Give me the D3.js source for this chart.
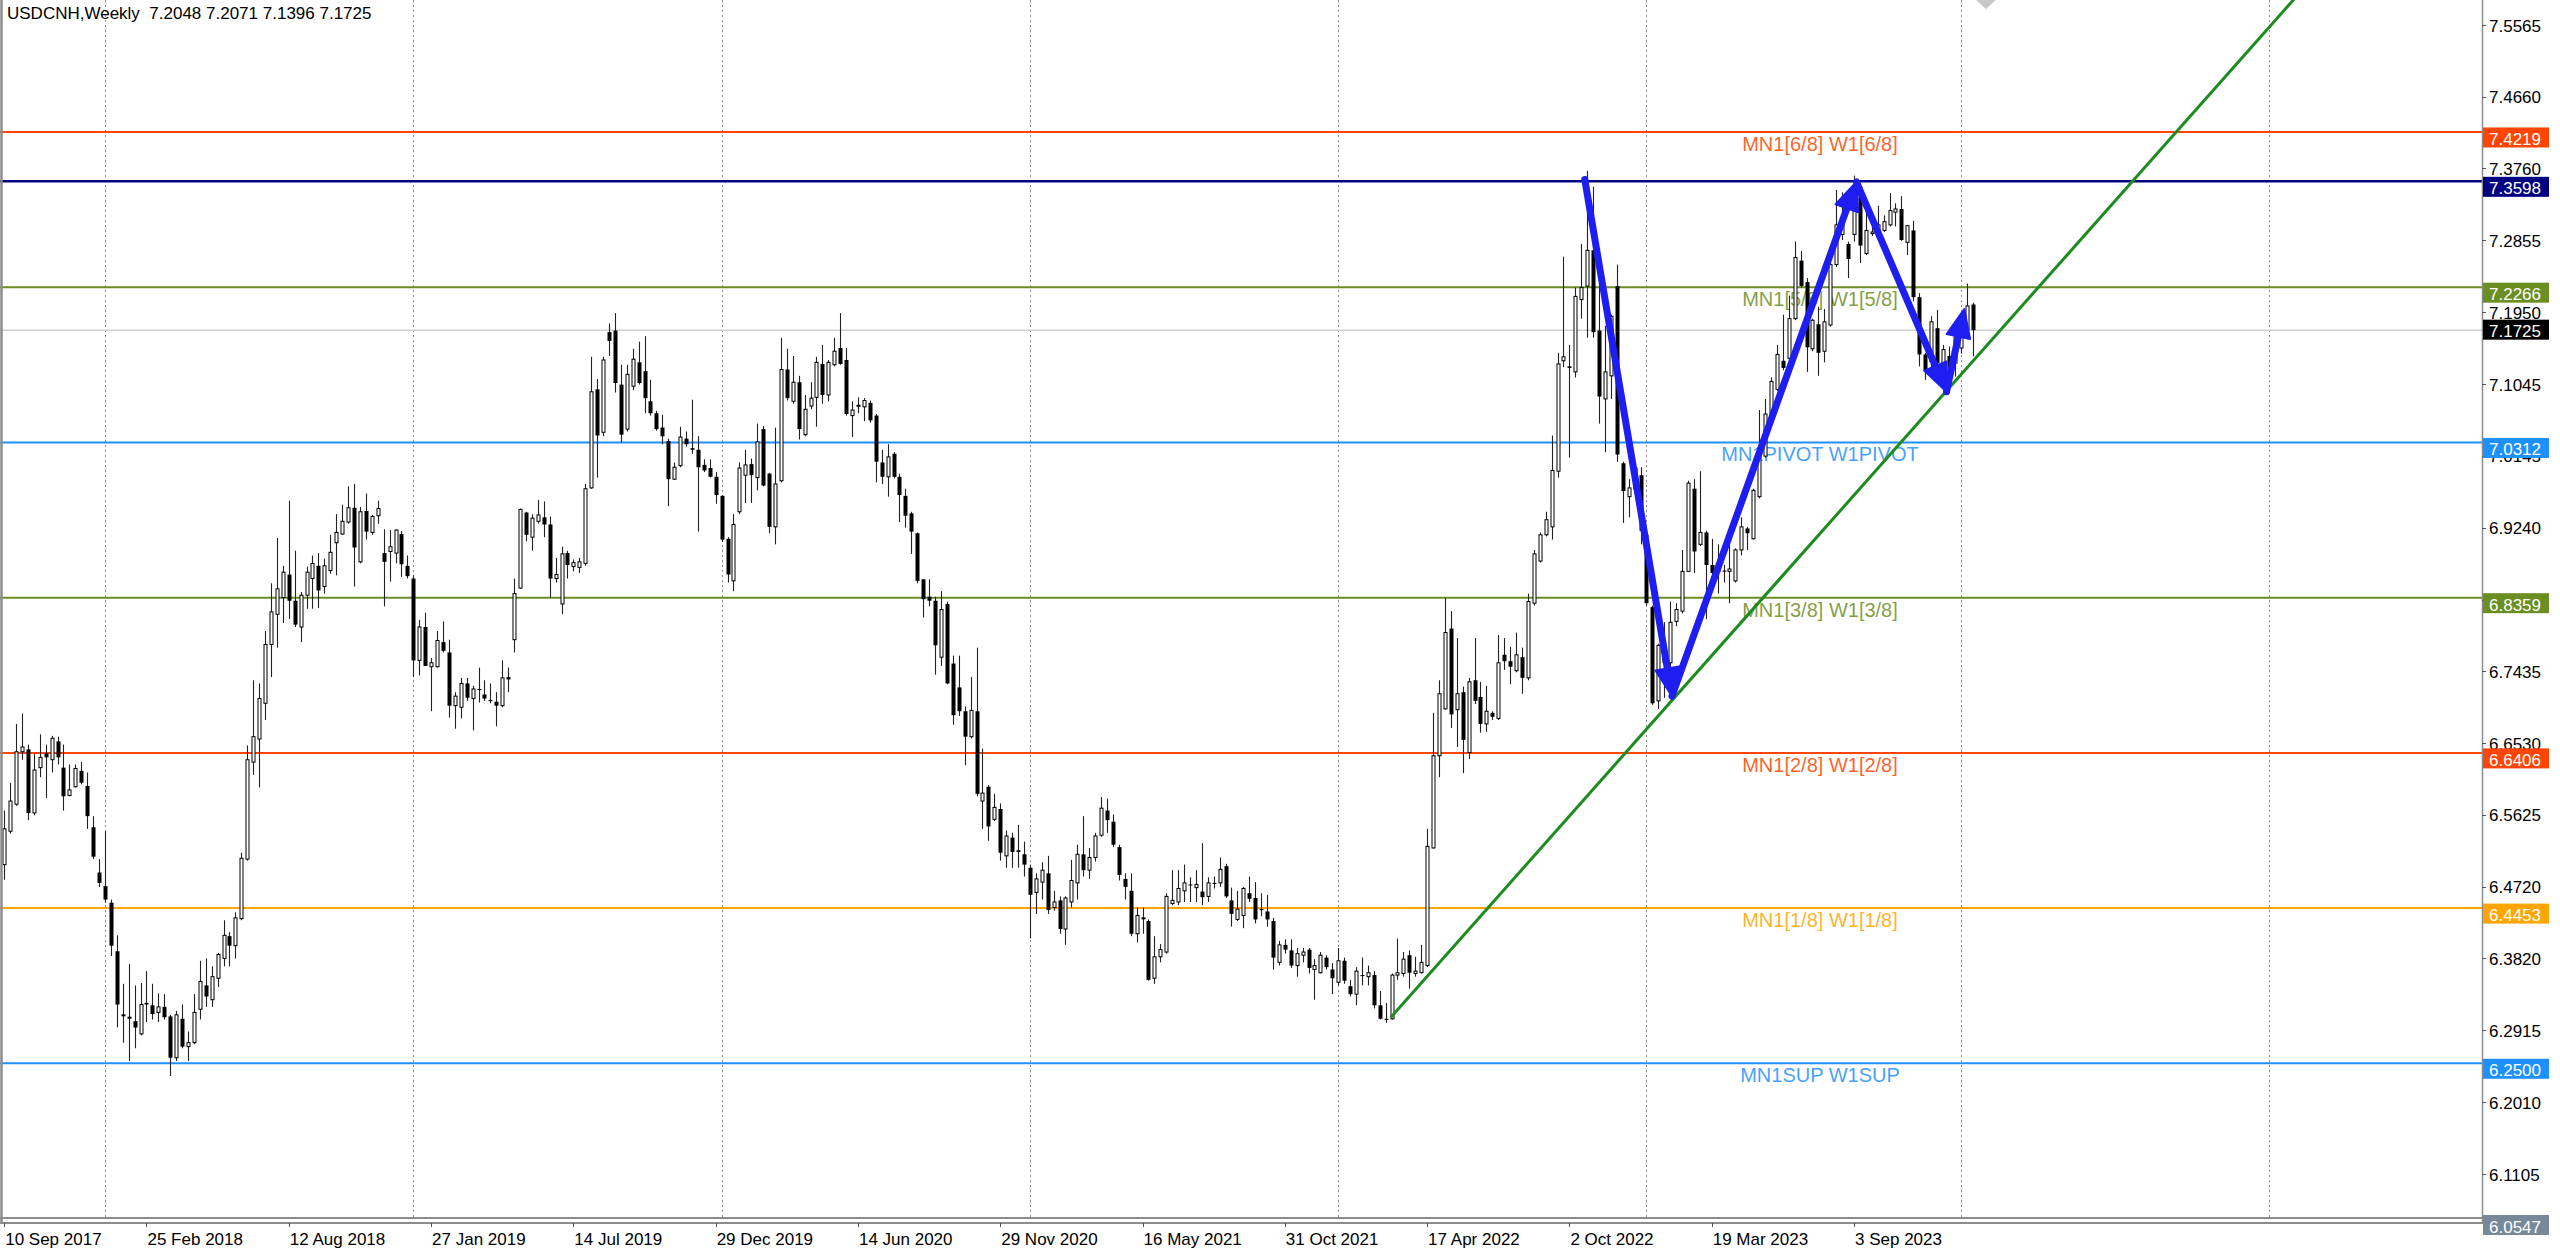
<!DOCTYPE html>
<html><head><meta charset="utf-8">
<script src="https://cdn.jsdelivr.net/npm/d3@7"></script>
<style>html,body{margin:0;padding:0;background:#fff;}svg{display:block;}</style>
</head><body>
<svg id="chart" width="2560" height="1249"></svg>
<script>
// ---------------- DATA ----------------
const chartTitle = "USDCNH,Weekly  7.2048 7.2071 7.1396 7.1725";
const firstBarDate = "2017-09-10";

const opens = [6.500,6.542,6.576,6.642,6.645,6.565,6.622,6.640,6.632,6.655,6.622,6.587,6.598,6.618,6.599,6.547,6.490,6.473,6.452,6.391,
6.310,6.307,6.303,6.287,6.326,6.323,6.314,6.321,6.309,6.257,6.306,6.271,6.276,6.318,6.348,6.330,6.357,6.382,6.410,6.398,
6.432,6.507,6.629,6.658,6.703,6.777,6.815,6.836,6.865,6.832,6.799,6.839,6.860,6.876,6.850,6.870,6.905,6.916,6.931,6.949,
6.881,6.945,6.918,6.939,6.892,6.894,6.892,6.916,6.876,6.860,6.757,6.799,6.749,6.749,6.780,6.767,6.700,6.698,6.728,6.709,
6.721,6.714,6.707,6.705,6.700,6.736,6.783,6.848,6.943,6.912,6.932,6.937,6.928,6.860,6.828,6.892,6.875,6.874,6.879,6.974,
7.098,7.044,7.170,7.172,7.104,7.048,7.102,7.132,7.121,7.083,7.068,7.050,7.033,6.985,7.002,7.036,7.024,7.022,7.003,6.999,
6.988,6.964,6.910,6.857,6.944,6.990,7.004,6.987,7.048,6.992,6.925,6.983,7.123,7.083,7.107,7.041,7.077,7.088,7.130,7.091,
7.129,7.150,7.135,7.065,7.078,7.076,7.081,7.065,7.006,6.988,7.017,6.988,6.964,6.942,6.917,6.859,6.837,6.832,6.761,6.828,
6.753,6.723,6.693,6.661,6.693,6.580,6.598,6.557,6.570,6.511,6.534,6.518,6.513,6.496,6.465,6.478,6.489,6.446,6.455,6.419,
6.453,6.477,6.513,6.493,6.509,6.537,6.568,6.554,6.522,6.482,6.467,6.413,6.433,6.429,6.357,6.384,6.390,6.451,6.453,6.467,
6.475,6.471,6.466,6.460,6.477,6.477,6.498,6.455,6.431,6.436,6.464,6.458,6.444,6.441,6.429,6.377,6.399,6.392,6.373,6.386,
6.393,6.368,6.364,6.383,6.368,6.352,6.379,6.347,6.337,6.361,6.359,6.361,6.323,6.306,6.306,6.361,6.363,6.386,6.363,6.364,
6.373,6.521,6.637,6.696,6.797,6.695,6.717,6.641,6.732,6.711,6.677,6.691,6.684,6.764,6.756,6.744,6.761,6.735,6.829,6.882,
6.915,6.925,6.995,7.134,7.127,7.120,7.211,7.228,7.273,7.172,7.086,7.115,7.228,7.005,6.963,6.973,6.990,6.915,6.824,6.706,
6.764,6.754,6.806,6.819,6.869,6.973,6.903,6.918,6.877,6.870,6.870,6.869,6.857,6.896,6.923,6.910,6.963,7.014,7.066,7.098,
7.134,7.137,7.187,7.260,7.233,7.149,7.180,7.146,7.179,7.255,7.293,7.281,7.293,7.353,7.269,7.294,7.296,7.298,7.305,7.321,
7.325,7.283,7.298,7.214,7.142,7.133,7.175,7.122,7.140,7.131,7.150,7.173,7.2048];

const highs = [6.568,6.603,6.677,6.690,6.651,6.639,6.664,6.651,6.662,6.661,6.651,6.626,6.626,6.629,6.616,6.561,6.507,6.542,6.456,6.411,
6.350,6.375,6.348,6.351,6.366,6.350,6.338,6.337,6.311,6.316,6.324,6.290,6.337,6.379,6.382,6.372,6.389,6.430,6.415,6.440,
6.515,6.650,6.732,6.728,6.794,6.854,6.911,6.876,6.958,6.895,6.843,6.875,6.889,6.892,6.885,6.915,6.941,6.953,6.976,6.979,
6.950,6.967,6.940,6.958,6.922,6.921,6.922,6.920,6.889,6.864,6.808,6.817,6.760,6.794,6.806,6.783,6.717,6.735,6.735,6.725,
6.748,6.732,6.728,6.717,6.757,6.748,6.860,6.948,6.944,6.941,6.959,6.957,6.938,6.886,6.900,6.895,6.884,6.886,6.979,7.139,
7.111,7.139,7.181,7.194,7.129,7.129,7.149,7.158,7.165,7.110,7.071,7.066,7.036,7.006,7.051,7.045,7.085,7.039,7.010,7.010,
6.994,6.965,6.912,6.941,7.006,7.022,7.011,7.055,7.052,6.993,7.050,7.163,7.149,7.140,7.115,7.091,7.107,7.139,7.154,7.135,
7.163,7.194,7.150,7.083,7.088,7.087,7.084,7.067,7.022,7.029,7.019,6.992,6.973,6.944,6.918,6.859,6.859,6.837,6.844,6.831,
6.763,6.763,6.699,6.736,6.773,6.646,6.600,6.589,6.577,6.543,6.540,6.550,6.529,6.500,6.489,6.503,6.511,6.467,6.460,6.460,
6.506,6.525,6.561,6.521,6.540,6.585,6.583,6.563,6.525,6.489,6.489,6.446,6.446,6.431,6.410,6.400,6.464,6.493,6.493,6.500,
6.484,6.493,6.527,6.484,6.485,6.509,6.501,6.471,6.467,6.472,6.485,6.478,6.464,6.462,6.433,6.404,6.406,6.406,6.395,6.395,
6.395,6.381,6.390,6.386,6.376,6.395,6.383,6.355,6.371,6.383,6.373,6.366,6.341,6.326,6.363,6.407,6.390,6.392,6.384,6.399,
6.545,6.691,6.732,6.836,6.819,6.785,6.724,6.735,6.785,6.730,6.725,6.693,6.789,6.785,6.774,6.792,6.773,6.841,6.896,6.918,
6.944,7.040,7.144,7.265,7.154,7.226,7.281,7.373,7.353,7.245,7.178,7.192,7.255,7.007,6.985,7.000,7.000,6.920,6.826,6.778,
6.805,6.831,6.829,6.896,6.983,6.985,6.995,6.920,6.910,6.903,6.877,6.908,6.898,6.937,6.925,6.973,7.072,7.086,7.113,7.154,
7.192,7.216,7.284,7.272,7.238,7.187,7.202,7.199,7.259,7.349,7.346,7.284,7.367,7.358,7.329,7.303,7.329,7.317,7.345,7.332,
7.341,7.305,7.310,7.219,7.144,7.190,7.198,7.154,7.152,7.168,7.181,7.231,7.2071];

const lows = [6.481,6.539,6.574,6.632,6.556,6.562,6.610,6.584,6.616,6.626,6.568,6.586,6.597,6.601,6.545,6.507,6.472,6.452,6.385,6.295,
6.276,6.253,6.269,6.285,6.302,6.305,6.302,6.305,6.234,6.253,6.269,6.253,6.274,6.305,6.321,6.321,6.346,6.372,6.372,6.382,
6.430,6.505,6.613,6.597,6.682,6.736,6.773,6.804,6.809,6.799,6.780,6.822,6.822,6.823,6.841,6.866,6.864,6.915,6.929,6.850,
6.879,6.909,6.915,6.929,6.825,6.856,6.879,6.862,6.860,6.736,6.738,6.750,6.693,6.748,6.767,6.685,6.671,6.684,6.706,6.669,
6.704,6.706,6.703,6.674,6.698,6.717,6.767,6.847,6.907,6.895,6.929,6.912,6.836,6.855,6.815,6.860,6.869,6.867,6.876,6.973,
6.987,7.039,7.140,7.094,7.031,7.045,7.097,7.104,7.068,7.065,7.046,7.029,6.951,6.984,7.000,7.026,7.017,6.919,6.994,6.987,
6.954,6.906,6.855,6.844,6.941,6.955,6.955,6.971,6.976,6.917,6.903,6.981,7.084,7.080,7.035,7.039,7.073,7.051,7.080,7.083,
7.127,7.129,7.065,7.038,7.068,7.058,7.056,6.981,6.979,6.963,6.986,6.931,6.924,6.891,6.854,6.811,6.825,6.739,6.750,6.727,
6.676,6.687,6.625,6.659,6.586,6.545,6.530,6.555,6.505,6.496,6.496,6.496,6.485,6.407,6.438,6.456,6.438,6.442,6.413,6.399,
6.446,6.456,6.485,6.482,6.504,6.535,6.540,6.522,6.480,6.456,6.410,6.402,6.413,6.354,6.350,6.377,6.388,6.449,6.449,6.453,
6.453,6.453,6.449,6.453,6.470,6.472,6.458,6.422,6.429,6.420,6.453,6.426,6.435,6.422,6.368,6.373,6.388,6.370,6.359,6.377,
6.363,6.330,6.363,6.368,6.337,6.348,6.350,6.334,6.323,6.348,6.348,6.319,6.305,6.301,6.305,6.355,6.359,6.344,6.359,6.363,
6.371,6.520,6.610,6.695,6.672,6.648,6.615,6.633,6.702,6.666,6.667,6.682,6.682,6.745,6.727,6.742,6.715,6.732,6.826,6.880,
6.913,6.909,6.987,7.126,7.012,7.113,7.187,7.163,7.163,7.055,7.019,7.086,7.007,6.930,6.937,6.971,6.903,6.826,6.701,6.696,
6.710,6.739,6.800,6.816,6.869,6.867,6.901,6.809,6.865,6.841,6.855,6.829,6.855,6.889,6.896,6.909,6.961,7.012,7.065,7.096,
7.122,7.133,7.185,7.226,7.120,7.146,7.115,7.132,7.177,7.252,7.286,7.238,7.284,7.257,7.267,7.291,7.286,7.296,7.303,7.303,
7.285,7.267,7.209,7.127,7.110,7.112,7.127,7.115,7.093,7.114,7.143,7.169,7.1396];

const closes = [6.545,6.580,6.642,6.648,6.565,6.619,6.635,6.635,6.659,6.635,6.586,6.594,6.621,6.603,6.561,6.510,6.477,6.456,6.398,6.324,
6.311,6.308,6.295,6.324,6.324,6.312,6.321,6.308,6.257,6.311,6.271,6.276,6.314,6.353,6.334,6.359,6.387,6.411,6.398,6.433,
6.508,6.632,6.661,6.709,6.777,6.818,6.847,6.868,6.832,6.802,6.839,6.868,6.879,6.845,6.876,6.893,6.918,6.932,6.949,6.899,
6.944,6.919,6.938,6.948,6.881,6.900,6.921,6.878,6.863,6.757,6.799,6.750,6.754,6.782,6.769,6.700,6.712,6.728,6.710,6.721,
6.720,6.709,6.706,6.700,6.735,6.733,6.841,6.947,6.915,6.936,6.940,6.928,6.860,6.865,6.891,6.877,6.880,6.881,6.973,7.095,
7.040,7.135,7.159,7.106,7.041,7.117,7.136,7.106,7.087,7.068,7.048,7.039,6.985,7.000,7.038,7.029,7.022,7.000,6.996,6.988,
6.965,6.909,6.865,6.928,6.999,7.003,6.990,7.032,6.977,6.925,6.979,7.123,7.087,7.107,7.048,7.073,7.087,7.132,7.091,7.132,
7.146,7.130,7.067,7.072,7.078,7.084,7.059,7.007,6.988,7.013,6.988,6.965,6.939,6.919,6.857,6.834,6.832,6.776,6.821,6.728,
6.688,6.693,6.661,6.694,6.589,6.590,6.548,6.572,6.515,6.536,6.516,6.516,6.500,6.462,6.482,6.493,6.443,6.453,6.419,6.458,
6.480,6.513,6.493,6.509,6.536,6.571,6.556,6.525,6.487,6.472,6.413,6.436,6.433,6.355,6.384,6.393,6.460,6.455,6.470,6.477,
6.474,6.475,6.459,6.477,6.476,6.494,6.460,6.438,6.444,6.470,6.457,6.431,6.443,6.431,6.383,6.399,6.393,6.373,6.388,6.390,
6.370,6.373,6.386,6.371,6.357,6.379,6.354,6.337,6.366,6.360,6.364,6.323,6.306,6.305,6.361,6.364,6.381,6.364,6.366,6.377,
6.523,6.637,6.715,6.792,6.689,6.715,6.657,6.730,6.706,6.677,6.693,6.686,6.754,6.756,6.749,6.764,6.735,6.831,6.891,6.915,
6.934,6.996,7.130,7.139,7.125,7.215,7.226,7.273,7.170,7.089,7.120,7.190,7.016,6.970,6.974,6.999,6.920,6.829,6.703,6.776,
6.754,6.805,6.821,6.869,6.980,6.894,6.918,6.877,6.867,6.870,6.869,6.872,6.896,6.925,6.917,6.971,7.016,7.067,7.108,7.142,
7.125,7.187,7.264,7.228,7.151,7.185,7.144,7.183,7.255,7.305,7.309,7.262,7.353,7.279,7.298,7.296,7.305,7.309,7.323,7.325,
7.286,7.304,7.214,7.142,7.121,7.183,7.131,7.148,7.118,7.164,7.176,7.203,7.1725];

const priceTicks = [7.5565,7.4660,7.3760,7.2855,7.1950,7.1045,7.0145,6.9240,6.8335,6.7435,6.6530,6.5625,6.4720,6.3820,6.2915,6.2010,6.1105];
const dateLabels = ["10 Sep 2017","25 Feb 2018","12 Aug 2018","27 Jan 2019","14 Jul 2019","29 Dec 2019","14 Jun 2020","29 Nov 2020","16 May 2021","31 Oct 2021","17 Apr 2022","2 Oct 2022","19 Mar 2023","3 Sep 2023"];
const yearGridDates = ["2018-01-07","2019-01-06","2020-01-05","2021-01-03","2022-01-02","2023-01-01","2024-01-07","2025-01-05"];

const levelPrices = [7.4219, 7.3598, 7.2266, 7.0312, 6.8359, 6.6406, 6.4453, 6.2500];
const levelNames  = ["MN1[6/8] W1[6/8]", "", "MN1[5/8] W1[5/8]", "MN1PIVOT W1PIVOT", "MN1[3/8] W1[3/8]", "MN1[2/8] W1[2/8]", "MN1[1/8] W1[1/8]", "MN1SUP W1SUP"];
const bidPrice = 7.1725;
const chartLow = 6.0547;
const chartTickTop = 7.5565;

const zigzagBars   = [266.6, 281.3, 312.4, 327.6, 330.6];
const zigzagPrices = [7.362, 6.712, 7.359, 7.095, 7.199];
const trendBars   = [233.9, 327.6];
const trendPrices = [6.308, 7.096];

// ---------------- STYLES ----------------
const levelColors = ["#ff4500", "#000080", "#6b8e23", "#1e90ff", "#6b8e23", "#ff4500", "#ffa500", "#1e90ff"];
const FONT = "'Liberation Sans', Arial, sans-serif";

// ---------------- LAYOUT ----------------
const W = 2560, H = 1249;
const plotRight = 2482, plotBottom = 1218.5;
const svg = d3.select("#chart");
svg.append("rect").attr("width", W).attr("height", H).attr("fill", "#fff");

const x = d3.scaleLinear().domain([0, 382]).range([4.2, 4.2 + 5.9288 * 382]);
const y = d3.scaleLinear().domain([chartLow, chartTickTop]).range([plotBottom, 25]);
const weekIndex = s => Math.round((new Date(s + "T00:00:00Z") - new Date(firstBarDate + "T00:00:00Z")) / (7 * 864e5));
const monthIdx = {Jan:0,Feb:1,Mar:2,Apr:3,May:4,Jun:5,Jul:6,Aug:7,Sep:8,Oct:9,Nov:10,Dec:11};
const labelIndex = s => { const p = s.split(" "); const d = new Date(Date.UTC(+p[2], monthIdx[p[1]], +p[0])); return Math.round((d - new Date(firstBarDate + "T00:00:00Z")) / (7 * 864e5)); };

svg.append("clipPath").attr("id", "plotClip").append("rect").attr("x", 0).attr("y", 0).attr("width", plotRight).attr("height", plotBottom);
const plot = svg.append("g").attr("clip-path", "url(#plotClip)");

// vertical yearly grid
plot.selectAll("line.vgrid").data(yearGridDates).join("line")
  .attr("x1", d => Math.round(x(weekIndex(d))) + 0.5).attr("x2", d => Math.round(x(weekIndex(d))) + 0.5)
  .attr("y1", 0).attr("y2", plotBottom)
  .attr("stroke", "#8c8c8c").attr("stroke-width", 1).attr("stroke-dasharray", "2,3");

// current bid line
plot.append("line").attr("x1", 0).attr("x2", plotRight).attr("y1", y(bidPrice)).attr("y2", y(bidPrice))
  .attr("stroke", "#cfcfcf").attr("stroke-width", 1.5);

// level lines
plot.selectAll("line.level").data(levelPrices).join("line")
  .attr("x1", 0).attr("x2", plotRight)
  .attr("y1", d => y(d)).attr("y2", d => y(d))
  .attr("stroke", (d, i) => levelColors[i]).attr("stroke-width", (d, i) => i === 1 ? 2.6 : 2);

// level labels
plot.selectAll("text.level").data(levelPrices).join("text")
  .attr("x", 1820).attr("y", d => y(d) + 19)
  .attr("text-anchor", "middle").attr("font-family", FONT).attr("font-size", 20)
  .attr("fill", (d, i) => levelColors[i]).attr("fill-opacity", 0.85)
  .text((d, i) => levelNames[i]);

// candles
const bars = opens.map((o, i) => ({ i, o, h: highs[i], l: lows[i], c: closes[i] }));
const cg = plot.append("g");
cg.selectAll("line.wick").data(bars).join("line")
  .attr("x1", d => Math.round(x(d.i)) + 0.5).attr("x2", d => Math.round(x(d.i)) + 0.5)
  .attr("y1", d => y(d.h)).attr("y2", d => y(d.l))
  .attr("stroke", "#222").attr("stroke-width", 1.1);
cg.selectAll("rect.body").data(bars).join("rect")
  .attr("x", d => d.c >= d.o ? Math.round(x(d.i)) - 1 : Math.round(x(d.i)) - 1.5)
  .attr("width", d => d.c >= d.o ? 3 : 4)
  .attr("y", d => y(Math.max(d.o, d.c)))
  .attr("height", d => Math.max(1, Math.abs(y(d.o) - y(d.c))))
  .attr("fill", d => d.c >= d.o ? "#fff" : "#000")
  .attr("stroke", d => d.c >= d.o ? "#000" : "none")
  .attr("stroke-width", 1);

// trend line (ray)
const tx0 = x(trendBars[0]), ty0 = y(trendPrices[0]);
const tx1 = x(trendBars[1]), ty1 = y(trendPrices[1]);
const tk = 6;
plot.append("line").attr("x1", tx0).attr("y1", ty0)
  .attr("x2", tx0 + (tx1 - tx0) * tk).attr("y2", ty0 + (ty1 - ty0) * tk)
  .attr("stroke", "#1f8a1f").attr("stroke-width", 3);

// zigzag arrows
const zz = zigzagBars.map((b, i) => [x(b), y(zigzagPrices[i])]);
const ag = plot.append("g");
const headL = 28, headW = 12;
for (let k = 0; k < zz.length - 1; k++) {
  const [ax, ay] = zz[k], [bx, by] = zz[k + 1];
  const len = Math.hypot(bx - ax, by - ay), ux = (bx - ax) / len, uy = (by - ay) / len;
  const cx = bx - ux * headL, cy = by - uy * headL;
  ag.append("line").attr("x1", ax).attr("y1", ay).attr("x2", cx + ux * 3).attr("y2", cy + uy * 3)
    .attr("stroke", "#1e1ef0").attr("stroke-width", 7).attr("stroke-linecap", "round");
  ag.append("polygon")
    .attr("points", [[bx, by], [cx - uy * headW, cy + ux * headW], [cx + uy * headW, cy - ux * headW]].map(p => p.join(",")).join(" "))
    .attr("fill", "#1e1ef0").attr("stroke", "#1e1ef0").attr("stroke-width", 2).attr("stroke-linejoin", "round");
}

// chart shift marker
svg.append("polygon").attr("points", "1976,0 1996,0 1986,9").attr("fill", "#c8c8c8");

// borders
svg.append("line").attr("x1", 1.5).attr("x2", 1.5).attr("y1", 0).attr("y2", 1224).attr("stroke", "#8c8c8c").attr("stroke-width", 2.5);
svg.append("line").attr("x1", 0).attr("x2", plotRight).attr("y1", 1218).attr("y2", 1218).attr("stroke", "#8c8c8c").attr("stroke-width", 2);
svg.append("line").attr("x1", 0).attr("x2", plotRight + 1).attr("y1", 1223).attr("y2", 1223).attr("stroke", "#8c8c8c").attr("stroke-width", 2);
svg.append("line").attr("x1", plotRight + 0.5).attr("x2", plotRight + 0.5).attr("y1", 0).attr("y2", 1224).attr("stroke", "#8c8c8c").attr("stroke-width", 1.5);

// title
svg.append("text").attr("x", 7).attr("y", 18.5).attr("font-family", FONT).attr("font-size", 17)
  .attr("fill", "#000").style("white-space", "pre").text(chartTitle);

// price axis ticks
const ax = svg.append("g");
ax.selectAll("line.tick").data(priceTicks).join("line")
  .attr("x1", plotRight).attr("x2", plotRight + 4).attr("y1", d => Math.round(y(d)) + 0.5).attr("y2", d => Math.round(y(d)) + 0.5)
  .attr("stroke", "#555").attr("stroke-width", 1);
ax.selectAll("text.tick").data(priceTicks).join("text")
  .attr("x", 2489).attr("y", d => y(d) + 6.5).attr("font-family", FONT).attr("font-size", 17).attr("fill", "#000")
  .text(d => d.toFixed(4));

// price boxes
function priceBox(v, fill, topOff) {
  const yy = y(v) - topOff;
  ax.append("rect").attr("x", 2483).attr("y", yy).attr("width", 66).attr("height", 20).attr("fill", fill);
  ax.append("text").attr("x", 2489).attr("y", yy + 17.5).attr("font-family", FONT).attr("font-size", 17).attr("fill", "#fff").text(v.toFixed(4));
}
levelPrices.forEach((v, i) => priceBox(v, levelColors[i], 4.5));
priceBox(bidPrice, "#000", 10.5);
priceBox(chartLow, "#778899", 3.5);

// date axis
const dg = svg.append("g");
dg.selectAll("line.dtick").data(dateLabels).join("line")
  .attr("x1", d => Math.round(x(labelIndex(d))) + 0.5).attr("x2", d => Math.round(x(labelIndex(d))) + 0.5)
  .attr("y1", 1223).attr("y2", 1227).attr("stroke", "#555");
dg.selectAll("text.dlab").data(dateLabels).join("text")
  .attr("x", d => x(labelIndex(d)) + 1).attr("y", 1245).attr("font-family", FONT).attr("font-size", 17).attr("fill", "#000")
  .text(d => d);
</script>
</body></html>
